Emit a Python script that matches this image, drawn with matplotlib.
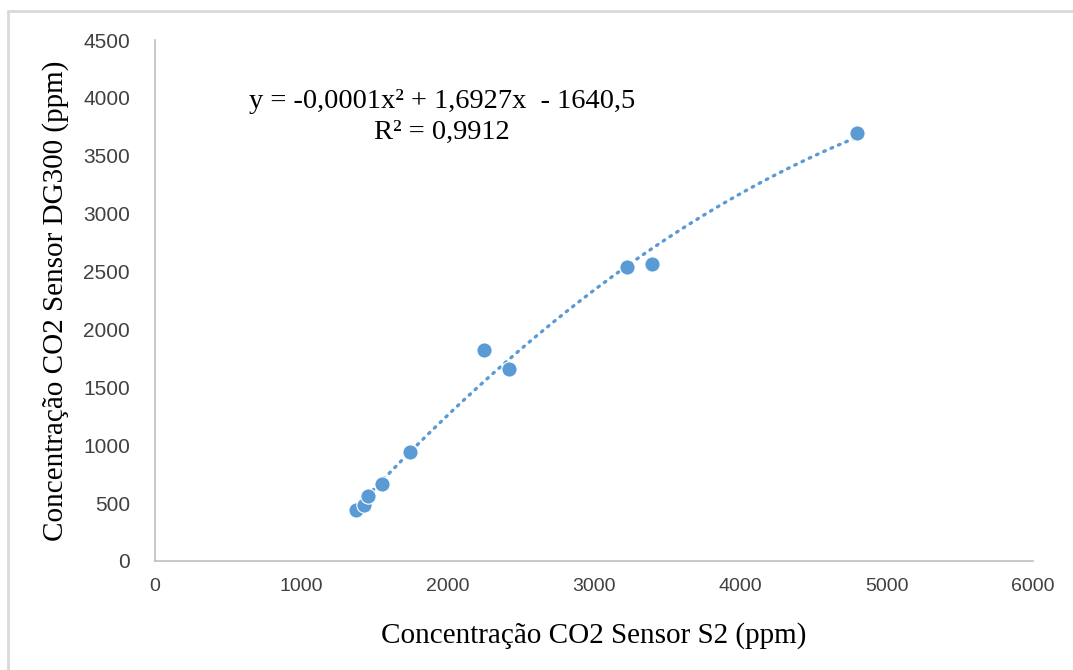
import matplotlib.pyplot as plt
import numpy as np
from matplotlib.patches import Rectangle

# Leituras dos dois sensores (ppm)
sensor_s2 = [1374, 1428, 1456, 1551, 1743, 2248, 2419, 3226, 3396, 4797]
sensor_dg300 = [440, 485, 561, 664, 945, 1825, 1660, 2543, 2568, 3697]

x_ticks = [0, 1000, 2000, 3000, 4000, 5000, 6000]
y_ticks = [0, 500, 1000, 1500, 2000, 2500, 3000, 3500, 4000, 4500]

cor = '#5B9BD5'
cinza = '#BFBFBF'

fig = plt.figure(figsize=(10.73, 6.70), dpi=100)
ax = fig.add_axes([155 / 1073, (670 - 561) / 670, 878 / 1073, 521 / 670])

# tendência polinomial de ordem 2 (como no Excel)
coef = np.polyfit(sensor_s2, sensor_dg300, 2)
xs = np.linspace(min(sensor_s2), max(sensor_s2), 200)
ax.plot(xs, np.polyval(coef, xs), color=cor, lw=2.4, linestyle=(0, (0.5, 1.9)),
        dash_capstyle='round', zorder=2)

ax.plot(sensor_s2, sensor_dg300, 'o', color=cor, ms=11, mec='white', mew=0.8, zorder=3)

ax.set_xlim(0, 6000)
ax.set_ylim(0, 4500)
ax.set_xticks(x_ticks)
ax.set_yticks(y_ticks)
ax.tick_params(axis='x', length=0, pad=12)
ax.tick_params(axis='y', length=0, pad=18)
for lb in ax.get_xticklabels():
    lb.set_fontfamily(['Liberation Sans Narrow', 'Liberation Sans'])
    lb.set_fontsize(14)
    lb.set_color('#404040')
for lb in ax.get_yticklabels():
    lb.set_fontfamily('Liberation Sans')
    lb.set_fontsize(15)
    lb.set_color('#404040')

for s in ['top', 'right']:
    ax.spines[s].set_visible(False)
for s in ['left', 'bottom']:
    ax.spines[s].set_color(cinza)
    ax.spines[s].set_linewidth(1.2)

ax.set_xlabel('Concentração CO2 Sensor S2 (ppm)', fontfamily='Liberation Serif',
              fontsize=21, labelpad=20)
ax.set_ylabel('Concentração CO2 Sensor DG300 (ppm)', fontfamily='Liberation Serif',
              fontsize=21, labelpad=10)

ax.text(442 / 1073, 1 - 117 / 670, 'y = -0,0001x² + 1,6927x  - 1640,5\nR² = 0,9912',
        transform=fig.transFigure, ha='center', va='center', multialignment='center',
        fontfamily='Liberation Serif', fontsize=20.5, linespacing=1.35)

# moldura do gráfico
fig.patches.append(Rectangle((8 / 1073, -0.1), 1.2, (670 - 11) / 670 + 0.1,
                             transform=fig.transFigure, fill=False,
                             edgecolor='#D9D9D9', lw=2))

fig.savefig('out.png', dpi=100)
